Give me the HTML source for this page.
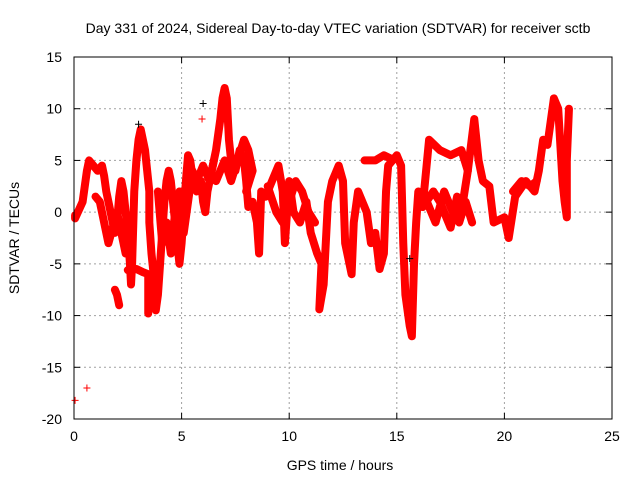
<!DOCTYPE html>
<html><head><meta charset="utf-8"><style>
body{margin:0;background:#fff}
svg text{font-family:"Liberation Sans",sans-serif;font-size:14px;fill:#000}
</style></head><body>
<svg id="c" width="640" height="480"></svg>
<script>
const xTicks=[0,5,10,15,20,25];
const yTicks=[-20,-15,-10,-5,0,5,10,15];
const seriesA=[[0.05,-0.3],[0.05,-0.6],[0.4,1],[0.5,2.5],[0.6,4],[0.7,5],[0.9,4.5],[1.1,4],[1.3,4.5],[1.4,3.5],[1.5,2],[1.6,1],[1.7,0],[1.8,-1],[1.9,-2],[2.0,-1],[2.1,1.5],[2.2,3],[2.3,2],[2.4,0],[2.5,-2],[2.6,-5],[2.65,-7],[2.7,-5],[2.8,2],[2.9,5],[3.0,7],[3.1,8],[3.2,7],[3.3,6],[3.4,4],[3.5,2],[3.5,-1],[3.6,-4],[3.7,-6],[3.75,-8],[3.8,-9.5],[3.9,-8],[4.0,-5],[4.1,-2],[4.2,1],[4.3,3],[4.4,4],[4.5,3],[4.6,1],[4.7,-1],[4.8,-3],[4.9,-5],[5.0,-3],[5.1,0],[5.2,3],[5.3,5.5],[5.4,5],[5.5,3.5],[5.7,2],[5.9,3],[6.0,1],[6.1,0],[6.2,2],[6.4,4],[6.6,6],[6.8,9],[6.9,11],[7.0,12],[7.1,11],[7.2,7],[7.3,5],[7.5,4],[7.7,6],[7.9,5],[8.0,3],[8.1,0.5],[8.3,1],[8.5,-1],[8.6,-4],[8.7,2],[8.9,1.5]];
const seriesB=[[2.5,-5.6],[2.9,-5.5],[3.2,-5.8],[3.45,-6],[3.45,-9.8]];
const seriesC=[[1.9,-7.5],[2.0,-8],[2.1,-9]];
const seriesD=[[8.9,1.5],[9.2,3],[9.5,4.5],[9.7,2],[9.8,-3],[10,3],[10.2,0],[10.5,-1],[10.8,1],[11,-2],[11.3,-4],[11.5,-5],[11.4,-9.4],[11.6,-7],[11.8,1],[12,3],[12.3,4.5],[12.5,3],[12.6,-3],[12.8,-5],[12.9,-6],[13.0,-1],[13.2,2],[13.4,1],[13.6,0],[13.8,-3],[14.0,-2],[14.2,-5.5],[14.4,-4],[14.5,2],[14.6,4.5],[15,5.5],[15.2,4.5],[15.3,-3],[15.4,-8],[15.6,-11],[15.7,-12],[15.8,-5],[15.9,-1],[16,2],[16.2,0.5],[16.5,7],[17,6],[17.5,5.5],[18,6],[18.3,4],[18.6,9],[18.8,5],[19,3],[19.3,2.5],[19.5,-1],[20,-0.5],[20.2,-2.5],[20.5,1.5],[21,3],[21.4,2],[21.6,4],[21.8,7],[22,6.5],[22.3,11],[22.5,10],[22.7,3],[22.8,1],[22.9,-0.5],[22.9,5],[23,10]];
const seriesE=[[16.2,0.5],[16.7,2],[17,1],[17.5,-1.5],[17.8,1.5],[18,0],[18.3,4]];
const seriesF=[[3.9,2],[4.1,-3],[4.3,-1],[4.5,-4],[4.7,0],[4.9,2],[5.1,-2],[5.3,1],[5.5,4],[5.7,3],[6.0,4.5],[6.3,3],[6.5,5]];
const seriesG=[[6.6,3],[7.0,5],[7.3,3],[7.6,5],[7.9,7],[8.1,6],[8.3,4],[8.0,2]];
const seriesH=[[1.0,1.5],[1.2,1],[1.4,-1],[1.6,-3],[1.8,-1.5],[2.0,0],[2.2,-2],[2.4,-4]];
const seriesI=[[9.0,2.5],[9.4,0],[9.7,-1],[10.0,1],[10.3,3],[10.6,2],[10.9,0],[11.2,-1]];
const seriesJ=[[13.5,5],[14.0,5],[14.4,5.5],[14.7,5.2]];
const seriesK=[[16.4,1],[16.8,-1],[17.2,2],[17.6,0],[17.9,-1],[18.2,1],[18.5,-1]];
const seriesM=[[20.4,2],[20.8,3],[21.2,2.5],[21.5,3]];
const blackPts=[[6.0,10.5],[3.0,8.5],[15.6,-4.5]];
const outliers=[[0.05,-18.2],[0.6,-17],[5.95,9]];
const title="Day 331 of 2024, Sidereal Day-to-day VTEC variation (SDTVAR) for receiver sctb";

const svg=document.getElementById('c');const NS='http://www.w3.org/2000/svg';
const L=74,R=612,T=57,B=419;
const X=v=>L+(v-0)/(25-0)*(R-L);
const Y=v=>B-(v+20)/35*(B-T);
function mk(t,a,p){const e=document.createElementNS(NS,t);for(const k in a)e.setAttribute(k,a[k]);(p||svg).appendChild(e);return e;}
const grid=mk('g',{});


xTicks.forEach(t=>{if(t>0&&t<25)mk('line',{x1:X(t),x2:X(t),y1:T,y2:B,stroke:'#a0a0a0','stroke-dasharray':'2,3'},grid);
 mk('line',{x1:X(t),x2:X(t),y1:B,y2:B-6,stroke:'#000'},grid);mk('line',{x1:X(t),x2:X(t),y1:T,y2:T+6,stroke:'#000'},grid);
 const tx=mk('text',{x:X(t),y:B+22,'text-anchor':'middle'});tx.textContent=t;
 
 });
yTicks.forEach(t=>{if(t>-20&&t<15)mk('line',{x1:L,x2:R,y1:Y(t),y2:Y(t),stroke:'#a0a0a0','stroke-dasharray':'2,3'},grid);
 mk('line',{x1:L,x2:L+6,y1:Y(t),y2:Y(t),stroke:'#000'},grid);mk('line',{x1:R,x2:R-6,y1:Y(t),y2:Y(t),stroke:'#000'},grid);
 const tx=mk('text',{x:L-12,y:Y(t)+5,'text-anchor':'end'});tx.textContent=t;
 
 });
const plot=mk('g',{});


function plus(p,col,g){const x=X(p[0]),y=Y(p[1]);mk('path',{d:`M${x-3.5},${y}h7M${x},${y-3.5}v7`,stroke:col,'stroke-width':1},g);}
[seriesA,seriesB,seriesC,seriesD,seriesE,seriesF,seriesG,seriesH,seriesI,seriesJ,seriesK,seriesM].forEach(s=>{
 const pl=mk('polyline',{points:s.map(p=>X(p[0])+','+Y(p[1])).join(' '),fill:'none',stroke:'#ff0000','stroke-width':8,'stroke-linejoin':'round','stroke-linecap':'round'},plot);
 
 
 s.forEach(p=>plus(p,'#ff0000',plot));});
outliers.forEach(p=>plus(p,'#ff0000',plot));
blackPts.forEach(p=>plus(p,'#000',plot));
const fr=mk('rect',{x:L,y:T,width:R-L,height:B-T,fill:'none',stroke:'#000'});


const ti=mk('text',{x:338,y:33,'text-anchor':'middle'});ti.textContent=title;


const xl=mk('text',{x:340,y:470,'text-anchor':'middle'});xl.textContent='GPS time / hours';


const yl=mk('text',{x:0,y:0,'text-anchor':'middle',transform:'translate(19,238) rotate(-90)'});yl.textContent='SDTVAR / TECUs';


</script></body></html>
